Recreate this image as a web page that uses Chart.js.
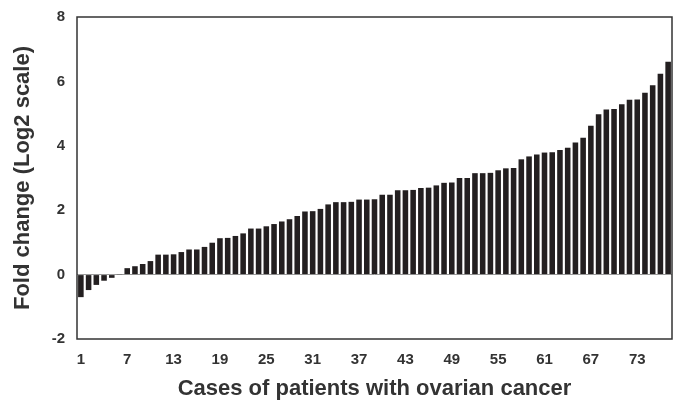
<!DOCTYPE html>
<html>
<head>
<meta charset="utf-8">
<script src="https://cdn.jsdelivr.net/npm/chart.js@4"></script>
<style>
  html, body { margin: 0; padding: 0; background: #fff; overflow: hidden; }
  #wrap { width: 673px; height: 402px; position: relative; }
</style>
</head>
<body>
<div id="wrap"><canvas id="chart"></canvas></div>
<script>
// Cases 1..77, sorted fold change (log2)
const caseLabels = Array.from({ length: 77 }, (_, i) => String(i + 1));
const foldChange = [
  -0.70, -0.48, -0.32, -0.19, -0.10, 0.01, 0.20, 0.26, 0.33, 0.42,
  0.62, 0.62, 0.63, 0.70, 0.78, 0.78, 0.86, 0.99, 1.13, 1.14,
  1.20, 1.28, 1.43, 1.43, 1.50, 1.57, 1.65, 1.72, 1.82, 1.96,
  1.97, 2.04, 2.18, 2.25, 2.25, 2.26, 2.33, 2.33, 2.34, 2.48,
  2.48, 2.62, 2.62, 2.63, 2.69, 2.70, 2.77, 2.85, 2.86, 3.00,
  3.00, 3.15, 3.15, 3.16, 3.24, 3.30, 3.31, 3.58, 3.67, 3.73,
  3.79, 3.80, 3.87, 3.94, 4.10, 4.25, 4.62, 4.98, 5.13, 5.14,
  5.29, 5.43, 5.44, 5.65, 5.88, 6.24, 6.61,
];
const shownTicks = ["1", "7", "13", "19", "25", "31", "37", "43", "49", "55", "61", "67", "73"];

const COLOR = {
  bar: "#231f20",
  frame: "#333333",
  text: "#333333",
  zero: "#9a9a9a",
};
const FONT = "'Liberation Sans', Arial, Helvetica, sans-serif";

Chart.defaults.font.family = FONT;
Chart.defaults.color = COLOR.text;

const frame = {
  id: "frame",
  afterDatasetsDraw(chart) {
    const { ctx, chartArea: a } = chart;
    ctx.save();
    ctx.strokeStyle = COLOR.frame;
    ctx.lineWidth = 1.5;
    ctx.strokeRect(a.left, a.top, a.right - a.left, a.bottom - a.top);
    ctx.restore();
  },
};

new Chart(document.getElementById("chart").getContext("2d"), {
  type: "bar",
  data: {
    labels: caseLabels,
    datasets: [{
      data: foldChange,
      backgroundColor: COLOR.bar,
      borderWidth: 0,
      barPercentage: 0.72,
      categoryPercentage: 1,
    }],
  },
  options: {
    responsive: true,
    maintainAspectRatio: false,
    animation: false,
    layout: { padding: { left: 0, top: 17, right: 1, bottom: 0 } },
    plugins: { legend: { display: false }, tooltip: { enabled: false } },
    scales: {
      x: {
        grid: { display: false, drawTicks: false },
        border: { display: false },
        afterFit: (s) => { s.height = 63; s.paddingLeft = 0; s.paddingRight = 0; },
        ticks: {
          autoSkip: false,
          maxRotation: 0,
          padding: 12,
          color: COLOR.text,
          font: { size: 15, weight: "bold" },
          callback: function (v) {
            const l = this.getLabelForValue(v);
            return shownTicks.includes(l) ? l : "";
          },
        },
        title: {
          display: true,
          text: "Cases of patients with ovarian cancer",
          color: COLOR.text,
          font: { size: 22, weight: "bold" },
          padding: { top: 0, bottom: 0 },
        },
      },
      y: {
        min: -2,
        max: 8,
        grid: {
          drawTicks: false,
          color: (c) => (c.tick && c.tick.value === 0 ? COLOR.zero : "rgba(0,0,0,0)"),
          lineWidth: 1,
        },
        border: { display: false },
        afterFit: (s) => { s.width = 77; s.paddingTop = 0; s.paddingBottom = 0; },
        ticks: {
          stepSize: 2,
          padding: 12,
          color: COLOR.text,
          font: { size: 15, weight: "bold" },
        },
        title: {
          display: true,
          text: "Fold change (Log2 scale)",
          color: COLOR.text,
          font: { size: 22, weight: "bold" },
          padding: { top: 10, bottom: 0 },
        },
      },
    },
  },
  plugins: [frame],
});
</script>
</body>
</html>
